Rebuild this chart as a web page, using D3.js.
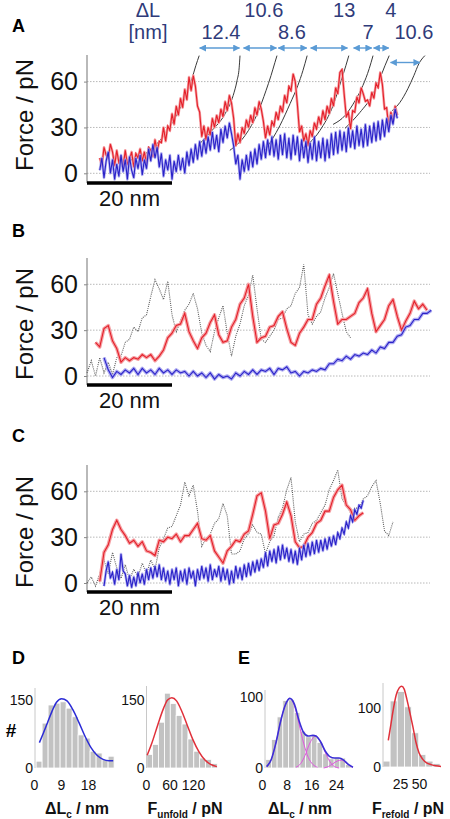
<!DOCTYPE html>
<html><head><meta charset="utf-8">
<script src="https://cdn.jsdelivr.net/npm/d3@7/dist/d3.min.js"></script>
<style>
html,body{margin:0;padding:0;background:#fff;}
svg{display:block;font-family:"Liberation Sans",Arial,Helvetica,sans-serif;}
</style></head><body>
<svg id="chart" width="450" height="819"></svg>
<script>
// ================= DATA =================
const forceTicks = [0, 30, 60];
const scaleBarNm = 20;

// Panel A : force (pN), sampled every 0.5 nm of extension from the start value
const aStep = 0.5;
const aRedStart = 3;
const aRed = [10,5,17,12,10,19,14,5,15,7,11,4,15,6,9,14,4,13,10,16,8,14,6,17,15,11,22,14,21,20,30,21,31,28,39,32,44,38,49,43,55,48,63,54,64,57,44,40,24,31,22,30,25,36,30,38,33,42,37,47,41,51,46,36,18,26,20,30,26,35,30,38,33,43,38,47,42,34,23,31,25,34,31,40,35,44,40,51,46,57,54,65,60,45,27,31,21,26,18,28,24,33,29,37,32,41,35,44,39,49,44,56,52,66,68,52,37,40,29,41,40,50,46,56,52,47,48,44,53,49,59,56,66,58,42,43,30,40,34,44,38];
const aBlueStart = 3;
const aBlue = [2,10,-3,8,14,0,9,-4,6,-2,12,1,9,-4,11,2,-3,10,3,12,-1,9,3,16,8,19,10,17,4,13,-2,9,2,12,-4,8,1,12,2,10,0,14,5,16,7,19,9,21,11,22,13,24,15,27,16,25,14,29,20,31,23,33,26,18,6,12,-4,9,1,12,2,14,4,16,6,19,9,21,10,22,12,24,11,22,9,25,12,26,10,23,9,25,12,24,8,22,10,21,7,20,9,24,8,21,10,23,8,22,10,26,12,27,13,28,15,27,14,30,17,28,16,31,18,29,17,32,18,31,20,33,21,34,22,35,24,36,27,38,32,42,36];
// WLC fits (extension nm, force pN)
const aFit1 = [[10.1,8.5],[14.8,15],[18.4,26],[21.4,39.8],[23.3,50.9],[24.7,62],[25.6,70.4],[26.4,77]];
const aFit2 = [[26.6,19.6],[29.4,28],[32.5,39],[34.4,51],[35.3,60.7],[35.8,69],[36.0,77]];
const aFit3 = [[33.6,15],[37.2,24.8],[40.2,39.8],[42.1,54],[43.3,64],[44.2,72.4],[44.7,77]];
const aFit4 = [[41.9,15],[45.4,31.3],[47.8,45.7],[49.6,57.4],[50.8,67.2],[51.8,77]];
const aFit5 = [[50.1,15],[54.8,28],[57.9,44.4],[59.8,60.7],[60.9,70.4],[61.6,77]];
const aFit6 = [[57.9,32],[60.7,37.8],[63.1,47.6],[64.9,57.4],[66.4,68.5],[67.3,77]];
const aFit7 = [[60.7,29.4],[64.2,39.8],[67.1,50.9],[68.9,62],[70.1,70.4],[71.1,77]];
const aFit8 = [[71.8,41],[73.6,46.3],[75.5,55.4],[76.9,63.9],[78.1,71.8],[79.5,77]];
const dLValues = ["12.4","10.6","8.6","13","7","4","10.6"];
const dLLabelRow = [1,0,1,0,1,0,1];
const dLLabelNm = [31.5,41.6,48.2,60.5,66.1,71.5,76.9];
const dLArrowNm = [[26.4,36.0],[36.7,44.7],[44.9,51.8],[52.5,61.4],[62.6,67.1],[67.3,71.1],[71.3,78.4]];
const dLArrowRow = [0,0,0,0,0,0,1];

// Panel B : sampled every 1 nm
const bStep = 1;
const bRedStart = 2;
const bRed = [22,19,31,33,23,18,9,12,10,12,11,14,12,14,10,13,17,25,28,33,34,41,29,23,18,25,28,35,40,27,22,23,32,37,47,51,60,39,22,25,26,32,33,39,42,31,22,20,28,32,37,37,47,51,59,66,49,34,37,37,39,41,48,51,57,41,29,33,37,46,50,39,30,36,41,49,44,47,43];
const bBlueStart = 4;
const bBlue = [12,4,-1,3,1,4,2,5,1,5,2,4,1,5,2,4,1,4,2,3,0,3,0,2,-1,2,-2,1,-1,0,-2,2,0,3,1,4,1,4,3,5,1,5,4,6,2,3,0,3,2,4,3,5,4,8,8,11,10,13,11,14,13,15,14,17,15,19,18,22,22,26,27,32,33,37,37,41,41,43];
const bGrayStart = 0;
const bGray = [2,10,0,12,2,9,1,12,13,22,24,32,29,38,40,52,63,57,50,62,40,29,36,43,47,54,44,28,20,16,29,38,46,28,13,26,34,46,53,66,44,24,22,26,30,37,38,44,46,54,58,73,40,34,39,42,51,58,67,54,41,29,25];

// Panel C : red and gray every 1 nm, blue every 0.5 nm
const cStep = 1;
const cRedStart = 3;
const cRed = [1,20,25,35,41,35,31,26,28,24,27,21,20,18,28,27,30,29,32,27,31,31,35,39,29,28,31,21,17,13,21,24,28,27,32,34,45,57,59,47,29,38,39,45,53,44,27,23,24,30,33,39,41,47,47,56,61,64,51,48,41,44,46];
const cBlueStart = 4, cBlueStep = 0.5;
const cBlue = [-2,8,14,3,7,-1,9,2,19,8,6,-2,5,-3,4,-2,7,0,6,-1,9,2,10,3,11,4,12,2,10,1,8,-1,9,2,10,-2,8,1,9,-1,10,3,8,-2,9,2,11,3,10,1,12,2,9,4,11,1,10,2,9,-1,8,0,11,3,10,2,12,4,13,5,14,7,15,8,16,10,20,11,21,14,22,13,24,15,25,16,23,14,22,13,21,12,23,15,25,17,26,18,27,19,28,20,28,21,29,22,30,24,31,25,33,29,36,32,40,36,44,40,48,45,51,49,54];
const cGrayStart = 0;
const cGray = [0,4,-2,6,15,6,20,10,3,12,2,9,4,13,6,15,9,23,29,36,37,44,51,66,57,64,47,24,29,32,39,42,52,44,19,19,21,29,32,38,33,32,19,27,31,43,49,61,69,40,27,32,33,39,41,46,51,61,67,74,55,51,46,49,49,55,57,63,67,52,34,31,40];

// Panel D : histograms
const dDLBinStart = 0.7, dDLBinWidth = 2.0;
const dDLCounts = [15,99,139,143,146,132,113,73,66,37,33,18,26];
const dDLFit = [[1.8,56],[3,75],[4.5,100],[6,125],[7.5,145],[9.2,153],[11,148],[13,128],[15,100],[17,70],[19,45],[21,28],[23,19],[25,16],[26.4,16]];
const dDLxTicks = [0,9,18];
const dFBinStart = 2, dFBinWidth = 15;
const dFCounts = [30,52,101,165,142,116,97,64,37,22,19,10];
const dFFit = [[3,28],[15,55],[30,95],[45,132],[55,150],[66,155],[78,148],[90,128],[105,95],[120,62],[135,36],[150,18],[165,8],[181,3]];
const dFxTicks = [0,60,120];
const dYTicks = [0,150];

// Panel E
const eDLBinStart = 1.2, eDLBinWidth = 1.85;
const eDLCounts = [12,40,72,95,96,78,52,44,46,36,20,13,15,14,5];
const eDLSum = [[1.5,2],[3,12],[4.5,35],[6,65],[7.5,88],[9,98],[10.5,90],[12,67],[13.5,50],[15,45],[16.5,46],[17.5,45],[19,37],[20.5,24],[22,16],[23.5,14],[25,14],[26.5,11],[28,5],[29.5,1]];
const eDLComp1 = [[1.5,2],[3,12],[4.5,35],[6,65],[7.5,88],[9,98],[10.5,88],[12,62],[13.5,35],[15,15],[16.5,5],[18,1]];
const eDLComp2 = [[11,1],[12.5,6],[14,18],[15.5,35],[17.5,45],[19,37],[20.5,22],[22,9],[23.5,2],[25,0]];
const eDLComp3 = [[20,0],[21.5,2],[23,6],[24.5,10],[25.8,11],[27,8],[28.5,3],[29.5,1]];
const eDLxTicks = [0,8,16,24];
const eFBinStart = 2.6, eFBinWidth = 9.4;
const eFCounts = [10,112,128,102,58,21,10,6];
const eFFit = [[9.6,45],[13,72],[16.5,100],[20,122],[24,134],[27.2,137],[30.5,132],[34,115],[38,92],[42,68],[46,42],[50,24],[55,13],[60,7],[66,4],[72,2],[79,1]];
const eFxTicks = [25,50];
const eYTicks = [0,100];

// ================= DRAW =================
const svg = d3.select('#chart');
const FONT = '"Liberation Sans", Arial, Helvetica, sans-serif';
const RED = '#e4202a', RED_HALO = '#f5a0a4';
const BLUE = '#2a22c8', BLUE_HALO = '#9c98ee';

const x = d3.scaleLinear().domain([0, 80.7]).range([87, 430]);

function series(start, step, vals){ return vals.map((v,i)=>[start + i*step, v]); }

function tracePanel(p){
  const y = d3.scaleLinear().domain([0,60]).range([p.zeroY, p.zeroY - 91.7]);
  const g = svg.append('g');
  g.selectAll('line.grid').data(forceTicks).join('line').attr('class','grid')
    .attr('x1', x(0)).attr('x2', x(80.7)).attr('y1', d=>y(d)).attr('y2', d=>y(d))
    .attr('stroke','#b8b8b8').attr('stroke-width',1).attr('stroke-dasharray','1.5,1.5');
  const ax = d3.axisLeft(y).tickValues(forceTicks).tickSize(3).tickPadding(6).tickFormat(d3.format('d'));
  const ga = g.append('g').attr('transform',`translate(${x(0)},0)`).call(ax);
  ga.select('.domain').remove();
  ga.selectAll('line').attr('stroke','#888');
  ga.selectAll('text').attr('font-size',25).attr('font-family',FONT).attr('fill','#111');
  g.append('line').attr('x1',x(0)).attr('x2',x(0)).attr('y1',p.topY).attr('y2',p.barY)
    .attr('stroke','#8a8a8a').attr('stroke-width',1.2);
  g.append('text').attr('transform',`translate(33,${p.labelY}) rotate(-90)`)
    .attr('text-anchor','middle').attr('font-size',24).attr('fill','#111').text('Force / pN');
  g.append('text').attr('x',12).attr('y',p.letterY).attr('font-size',18).attr('font-weight','bold').text(p.letter);

  const line = d3.line().x(d=>x(d[0])).y(d=>y(d[1]));
  if (p.gray){
    g.append('path').attr('d', line(series(p.grayStart, p.step, p.gray))).attr('fill','none')
      .attr('stroke','#5a5a5a').attr('stroke-width',1.1).attr('stroke-dasharray','1,1.1');
  }
  if (p.fits){
    p.fits.forEach(f=>{
      g.append('path').attr('d', d3.line().curve(d3.curveMonotoneX).x(d=>x(d[0])).y(d=>y(d[1]))(f))
        .attr('fill','none').attr('stroke','#3a3a3a').attr('stroke-width',1);
    });
  }
  const red = series(p.redStart, p.step, p.red);
  const blue = series(p.blueStart, p.blueStep || p.step, p.blue);
  const hwR = p.step < 1 ? 2.6 : 3.5;
  const hwB = (p.blueStep || p.step) < 1 ? 2.6 : 3.5;
  g.append('path').attr('d', line(red)).attr('fill','none').attr('stroke',RED_HALO).attr('stroke-width',hwR).attr('stroke-linejoin','round');
  g.append('path').attr('d', line(red)).attr('fill','none').attr('stroke',RED).attr('stroke-width',1.1);
  g.append('path').attr('d', line(blue)).attr('fill','none').attr('stroke',BLUE_HALO).attr('stroke-width',hwB).attr('stroke-opacity',0.8).attr('stroke-linejoin','round');
  g.append('path').attr('d', line(blue)).attr('fill','none').attr('stroke',BLUE).attr('stroke-width',1.1);

  // scale bar
  g.append('line').attr('x1',x(0)).attr('x2',x(scaleBarNm)).attr('y1',p.barY).attr('y2',p.barY)
    .attr('stroke','#000').attr('stroke-width',3.5);
  g.append('text').attr('x',(x(0)+x(scaleBarNm))/2).attr('y',p.barY+23).attr('text-anchor','middle')
    .attr('font-size',22).attr('fill','#111').text(scaleBarNm + ' nm');
  return {g,y};
}

tracePanel({letter:'A', letterY:32, zeroY:173.3, topY:55, barY:183, labelY:115, step:aStep,
  redStart:aRedStart, red:aRed, blueStart:aBlueStart, blue:aBlue,
  fits:[aFit1,aFit2,aFit3,aFit4,aFit5,aFit6,aFit7,aFit8]});
tracePanel({letter:'B', letterY:237, zeroY:376, topY:258, barY:385, labelY:324, step:bStep,
  redStart:bRedStart, red:bRed, blueStart:bBlueStart, blue:bBlue, grayStart:bGrayStart, gray:bGray});
tracePanel({letter:'C', letterY:442, zeroY:583, topY:465, barY:592, labelY:532, step:cStep,
  redStart:cRedStart, red:cRed, blueStart:cBlueStart, blueStep:cBlueStep, blue:cBlue, grayStart:cGrayStart, gray:cGray});

// Panel A annotations
const NAVY = '#2f3b7a', ARROW = '#5b9bd5';
const defs = svg.append('defs');
defs.append('marker').attr('id','ah').attr('viewBox','0 0 10 10').attr('refX',9).attr('refY',5)
  .attr('markerWidth',5).attr('markerHeight',5).attr('orient','auto-start-reverse')
  .append('path').attr('d','M0,0 L10,5 L0,10 z').attr('fill',ARROW);
const rowTextY = [17, 39], rowArrowY = [48, 62.5];
svg.append('text').attr('x',148).attr('y',rowTextY[0]).attr('text-anchor','middle').attr('font-size',20).attr('fill',NAVY).text('ΔL');
svg.append('text').attr('x',148).attr('y',rowTextY[1]).attr('text-anchor','middle').attr('font-size',20).attr('fill',NAVY).text('[nm]');
svg.selectAll('text.dl').data(dLValues).join('text').attr('class','dl')
  .attr('x',(d,i)=>x(dLLabelNm[i])).attr('y',(d,i)=>rowTextY[dLLabelRow[i]])
  .attr('text-anchor','middle').attr('font-size',20).attr('fill',NAVY).text(d=>d);
svg.selectAll('line.dla').data(dLArrowNm).join('line').attr('class','dla')
  .attr('x1',d=>x(d[0])+0.5).attr('x2',d=>x(d[1])-0.5)
  .attr('y1',(d,i)=>rowArrowY[dLArrowRow[i]]).attr('y2',(d,i)=>rowArrowY[dLArrowRow[i]])
  .attr('stroke',ARROW).attr('stroke-width',1.4)
  .attr('marker-start','url(#ah)').attr('marker-end','url(#ah)');

// ================= HISTOGRAMS =================
function subTitle(g, cx, by, parts){
  const t = g.append('text').attr('x',cx).attr('y',by).attr('text-anchor','middle')
    .attr('font-weight','bold').attr('fill','#111');
  let prevSub = false;
  parts.forEach(([s,sub])=>{
    const ts = t.append('tspan').text(s).attr('font-size', sub ? 10 : 16);
    if (sub && !prevSub) ts.attr('dy',4);
    if (!sub && prevSub) ts.attr('dy',-4);
    prevSub = sub;
  });
}

function hist(o){
  const xs = d3.scaleLinear().domain(o.xDom).range(o.xRng);
  const ys = d3.scaleLinear().domain([0,o.yRefVal]).range([o.baseY,o.refY]);
  const g = svg.append('g');
  g.selectAll('rect').data(o.counts).join('rect')
    .attr('x',(d,i)=>xs(o.binStart+i*o.binW))
    .attr('width',(d,i)=>xs(o.binStart+(i+1)*o.binW)-xs(o.binStart+i*o.binW))
    .attr('y',d=>ys(d)).attr('height',d=>o.baseY-ys(d))
    .attr('fill','#c2c2c2').attr('stroke','#fff').attr('stroke-width',0.8);
  g.append('line').attr('x1',o.axisX).attr('x2',o.axisX).attr('y1',o.topY).attr('y2',o.baseY)
    .attr('stroke','#c8c8c8').attr('stroke-width',1);
  const ya = d3.axisLeft(ys).tickValues(o.yTicks).tickSize(0).tickPadding(2);
  const gy = g.append('g').attr('transform',`translate(${o.axisX},0)`).call(ya);
  gy.select('.domain').remove();
  gy.selectAll('text').attr('font-size',14).attr('font-family',FONT).attr('fill','#111');
  const xa = d3.axisBottom(xs).tickValues(o.xTicks).tickSize(0).tickPadding(12);
  const gx = g.append('g').attr('transform',`translate(0,${o.baseY})`).call(xa);
  gx.select('.domain').remove();
  gx.selectAll('text').attr('font-size',14).attr('font-family',FONT).attr('fill','#111');
  const ln = d3.line().curve(d3.curveMonotoneX).x(d=>xs(d[0])).y(d=>ys(d[1]));
  o.curves.forEach(c=>{
    g.append('path').attr('d',ln(c.data)).attr('fill','none').attr('stroke',c.color).attr('stroke-width',c.w);
  });
  subTitle(g, o.titleX, 814, o.title);
  return g;
}

hist({xDom:[0,18], xRng:[34,88], yRefVal:150, baseY:768, refY:700, axisX:35, topY:688,
  binStart:dDLBinStart, binW:dDLBinWidth, counts:dDLCounts, yTicks:dYTicks, xTicks:dDLxTicks,
  curves:[{data:dDLFit, color:'#2b2bd6', w:1.5}], titleX:77, title:[['ΔL',false],['c',true],[' / nm',false]]});
hist({xDom:[0,120], xRng:[146,193], yRefVal:150, baseY:768, refY:700, axisX:146.5, topY:686,
  binStart:dFBinStart, binW:dFBinWidth, counts:dFCounts, yTicks:dYTicks, xTicks:dFxTicks,
  curves:[{data:dFFit, color:'#e0303a', w:1.5}], titleX:185, title:[['F',false],['unfold',true],[' / pN',false]]});
hist({xDom:[0,24], xRng:[262,336], yRefVal:100, baseY:768, refY:697, axisX:265, topY:690,
  binStart:eDLBinStart, binW:eDLBinWidth, counts:eDLCounts, yTicks:eYTicks, xTicks:eDLxTicks,
  curves:[{data:eDLComp1, color:'#e055e0', w:1},{data:eDLComp2, color:'#e055e0', w:1},{data:eDLComp3, color:'#e055e0', w:1},{data:eDLSum, color:'#3b2fd6', w:1.6}],
  titleX:300, title:[['ΔL',false],['c',true],[' / nm',false]]});
hist({xDom:[0,50], xRng:[381,419], yRefVal:100, baseY:767, refY:708, axisX:383, topY:683,
  binStart:eFBinStart, binW:eFBinWidth, counts:eFCounts, yTicks:eYTicks, xTicks:eFxTicks,
  curves:[{data:eFFit, color:'#e0303a', w:1.5}], titleX:408, title:[['F',false],['refold',true],[' / pN',false]]});

svg.append('text').attr('x',11).attr('y',737).attr('text-anchor','middle').attr('font-size',19).attr('font-weight','bold').text('#');
svg.append('text').attr('x',12).attr('y',664).attr('font-size',18).attr('font-weight','bold').text('D');
svg.append('text').attr('x',238).attr('y',664).attr('font-size',18).attr('font-weight','bold').text('E');
</script></body></html>
